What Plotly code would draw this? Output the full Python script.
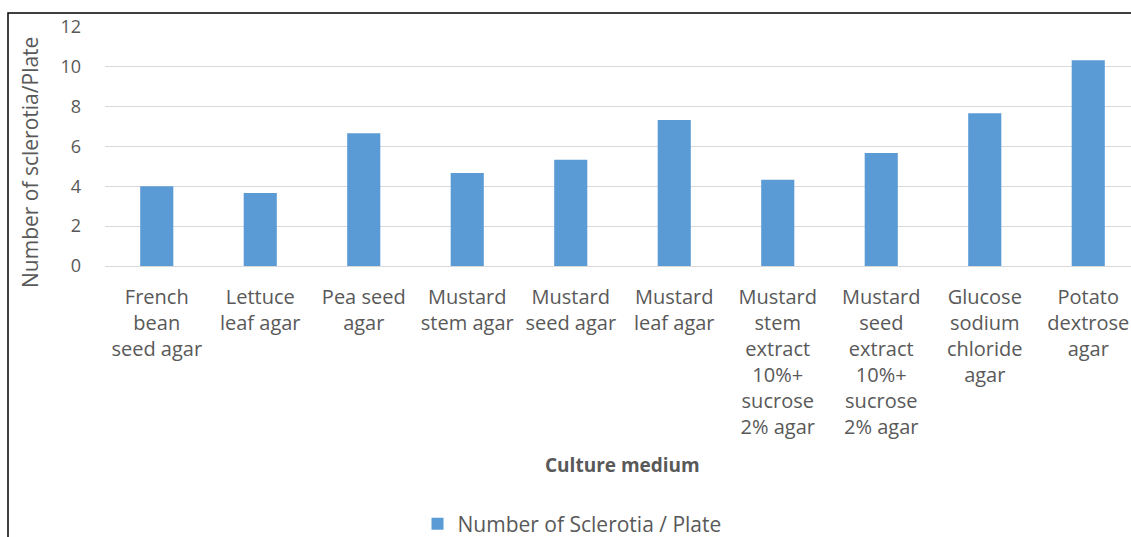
import plotly.graph_objects as go

# Culture media tested and mean sclerotia counts per plate
media = [
    "French<br>bean<br>seed agar",
    "Lettuce<br>leaf agar",
    "Pea seed<br>agar",
    "Mustard<br>stem agar",
    "Mustard<br>seed agar",
    "Mustard<br>leaf agar",
    "Mustard<br>stem<br>extract<br>10%+<br>sucrose<br>2% agar",
    "Mustard<br>seed<br>extract<br>10%+<br>sucrose<br>2% agar",
    "Glucose<br>sodium<br>chloride<br>agar",
    "Potato<br>dextrose<br>agar",
]
sclerotia_per_plate = [4.0, 3.67, 6.67, 4.67, 5.33, 7.33, 4.33, 5.67, 7.67, 10.33]
y_ticks = [0, 2, 4, 6, 8, 10, 12]

W, H = 1131, 537
L, R, T, B = 105, 0, 27, 271
pw, ph = W - L - R, H - T - B

def px_x(p):
    return (p - L) / pw

def px_y(p):
    return (H - B - p) / ph

FONT = "Open Sans"
GREY = "#595959"

fig = go.Figure()
fig.add_trace(go.Bar(
    x=list(range(len(media))),
    y=sclerotia_per_plate,
    name="Number of Sclerotia / Plate",
    marker=dict(color="#5B9BD5", line=dict(width=0)),
    width=0.32,
))

fig.update_layout(
    width=W, height=H,
    margin=dict(l=L, r=R, t=T, b=B, pad=0, autoexpand=False),
    paper_bgcolor="white",
    plot_bgcolor="white",
    font=dict(family=FONT, color=GREY),
    showlegend=True,
    legend=dict(
        orientation="h",
        x=px_x(572), xanchor="center",
        y=px_y(524), yanchor="middle",
        font=dict(family=FONT, size=21, color=GREY),
        itemwidth=30,
    ),
    xaxis=dict(
        tickmode="array",
        tickvals=list(range(len(media))),
        ticktext=media,
        range=[-0.5, -0.5 + pw / 103.5],
        showgrid=False,
        showline=False,
        ticks="",
        tickangle=0,
        tickfont=dict(family=FONT, size=20, color=GREY),
        ticklabelstandoff=17,
        automargin=False,
    ),
    yaxis=dict(
        range=[0, 12],
        tickvals=y_ticks,
        showgrid=True,
        gridcolor="#D9D9D9",
        gridwidth=1,
        zeroline=True,
        zerolinecolor="#D9D9D9",
        zerolinewidth=1,
        showline=False,
        ticks="",
        tickfont=dict(family=FONT, size=18, color=GREY),
        ticklabelstandoff=23,
        automargin=False,
    ),
    annotations=[
        dict(
            text="Number of sclerotia/Plate",
            xref="paper", yref="paper",
            x=px_x(30), y=px_y(163),
            xanchor="center", yanchor="middle",
            textangle=-90, showarrow=False,
            font=dict(family=FONT, size=21, color=GREY),
        ),
        dict(
            text="<b>Culture medium</b>",
            xref="paper", yref="paper",
            x=px_x(622), y=px_y(465),
            xanchor="center", yanchor="middle",
            showarrow=False,
            font=dict(family=FONT, size=19, color=GREY),
        ),
    ],
    shapes=[
        dict(
            type="rect", xref="paper", yref="paper",
            x0=px_x(8), y0=px_y(560), x1=px_x(1160), y1=px_y(13),
            line=dict(color="black", width=1.5),
            fillcolor="rgba(0,0,0,0)", layer="above",
        ),
    ],
)

fig.write_html("out.html")
